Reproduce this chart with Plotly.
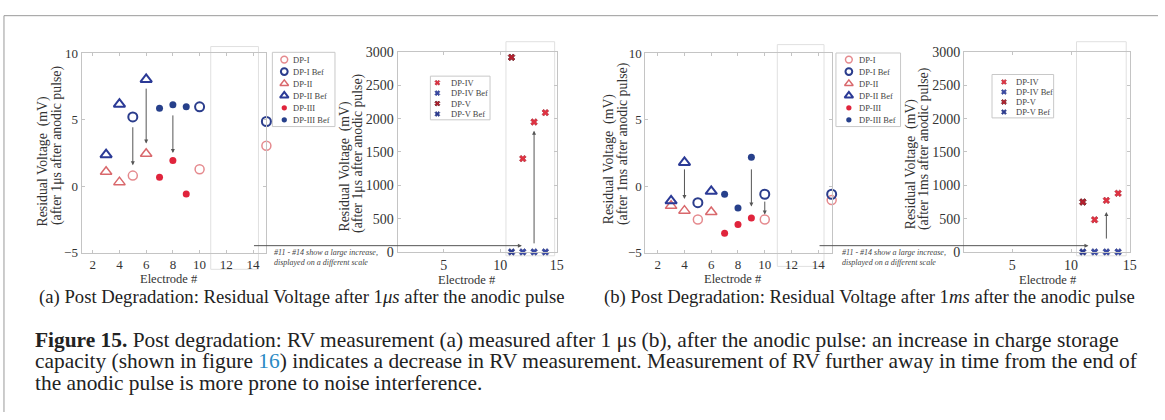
import plotly.graph_objects as go

W, H = 1165, 420

# ---------------- data: residual voltage per electrode (mV) ----------------
elec_dp1 = [5, 10, 15]
elec_dp2 = [3, 4, 6]
elec_dp3 = [7, 8, 9]
elec_dp4 = [12, 13, 14]
elec_dp5 = [11]

# measured 1 us after the anodic pulse
us_dp1 = [0.8, 1.28, 3.04]
us_dp1_bef = [5.2, 5.96, 4.86]
us_dp2 = [1.09, 0.31, 2.44]
us_dp2_bef = [2.37, 6.16, 8.02]
us_dp3 = [0.67, 1.93, -0.58]
us_dp3_bef = [5.85, 6.11, 5.96]
us_dp4 = [1400, 1950, 2090]
us_dp4_bef = [0, 0, 0]
us_dp5 = [2920]
us_dp5_bef = [0]

# measured 1 ms after the anodic pulse
ms_dp1 = [-2.49, -2.49, -1.04]
ms_dp1_bef = [-1.23, -0.6, -0.6]
ms_dp2 = [-1.47, -1.83, -1.93]
ms_dp2_bef = [-1.09, 1.79, -0.38]
ms_dp3 = [-3.52, -2.87, -2.39]
ms_dp3_bef = [-0.6, -1.64, 2.17]
ms_dp4 = [483, 773, 880]
ms_dp4_bef = [0, 0, 0]
ms_dp5 = [749]
ms_dp5_bef = [0]

# change arrows (electrode, from, to)
us_arrow_x = [5, 6, 8]
us_arrow_from = [4.54, 7.44, 5.43]
us_arrow_to = [1.57, 3.2, 2.49]
us_big_arrow = (13, 106, 1820)
ms_arrow_x = [4, 9, 10]
ms_arrow_from = [1.38, 1.38, -1.04]
ms_arrow_to = [-0.96, -1.52, -2.12]
ms_big_arrow = (13, 178, 598)

# tick labels
small_xticks = [2, 4, 6, 8, 10, 12, 14]
small_yticks = [-5, 0, 5, 10]
big_xticks = [5, 10, 15]
big_yticks = [0, 500, 1000, 1500, 2000, 2500, 3000]

SERIF = "Liberation Serif"

STYLE = {
    "DP-I": dict(symbol="circle-open", color="#e58a8e", size=9, lw=1.5),
    "DP-I Bef": dict(symbol="circle-open", color="#2b3d8c", size=9, lw=2),
    "DP-II": dict(symbol="triangle-up-open", color="#d9686c", size=10, lw=1.5),
    "DP-II Bef": dict(symbol="triangle-up-open", color="#2b3a96", size=10, lw=2),
    "DP-III": dict(symbol="circle", color="#e0243c", size=7, lw=0),
    "DP-III Bef": dict(symbol="circle", color="#27408b", size=7, lw=0),
    "DP-IV": dict(symbol="x", color="#e23242", size=6, lw=0.5, lc="#9a1a28"),
    "DP-IV Bef": dict(symbol="x", color="#3a4aa8", size=6, lw=0.5, lc="#1d2a70"),
    "DP-V": dict(symbol="x", color="#b8202e", size=6, lw=0.7, lc="#5a0c14"),
    "DP-V Bef": dict(symbol="x", color="#2d3c92", size=6, lw=0.5, lc="#1d2a70"),
}


def fx(p):
    return p / W


def fy(p):
    return 1 - p / H


def marker(name, scale=1.0):
    s = STYLE[name]
    m = dict(symbol=s["symbol"], color=s["color"], size=s["size"] * scale)
    if s["symbol"].endswith("open"):
        m["line"] = dict(color=s["color"], width=s["lw"])
    elif s["symbol"] == "x":
        m["line"] = dict(color=s.get("lc", s["color"]), width=s["lw"])
    return m


fig = go.Figure()

# axis boxes: (axis id, x px span, y px span, x range, y range, ticks, tick font size)
panels = [
    ("", (82, 268), (47.7, 255), [1.16, 15], [-5, 10], small_xticks, small_yticks, 13),
    ("2", (400, 560), (46.7, 254), [0.9, 15], [0, 3000], big_xticks, big_yticks, 14),
    ("3", (649.3, 836.7), (47.7, 255), [1.08, 15], [-5, 10], small_xticks, small_yticks, 13),
    ("4", (970, 1136.7), (46.7, 254), [0.9, 15], [0, 3000], big_xticks, big_yticks, 14),
]

axis_common = dict(
    showgrid=False, zeroline=False, showline=True, linecolor="#c4c4c4", linewidth=1,
    mirror="ticks", ticks="inside", ticklen=3, tickcolor="#c4c4c4",
)
for sid, xs, ys, xr, yr, xt, yt, fs in panels:
    tf = dict(family=SERIF, size=fs, color="#333")
    fig.update_layout(**{
        "xaxis" + sid: dict(domain=[fx(xs[0]), fx(xs[1])], range=xr, tickvals=xt,
                            anchor="y" + sid, tickfont=tf, **axis_common),
        "yaxis" + sid: dict(domain=[fy(ys[1]), fy(ys[0])], range=yr, tickvals=yt,
                            anchor="x" + sid, tickfont=tf, **axis_common),
    })

# page-coordinate helper axes (pixels, origin top-left) for legends and pointers
PX = "5"
fig.update_layout(
    xaxis5=dict(domain=[0, 1], range=[0, W], visible=False, anchor="y5", fixedrange=True),
    yaxis5=dict(domain=[0, 1], range=[H, 0], visible=False, anchor="x5", fixedrange=True),
)


def add_series(name, xs, ys, sid):
    fig.add_trace(go.Scatter(
        x=xs, y=ys, mode="markers", name=name, marker=marker(name),
        xaxis="x" + sid, yaxis="y" + sid, cliponaxis=False, showlegend=False,
    ))


# (a) after 1 us
add_series("DP-I", elec_dp1, us_dp1, "")
add_series("DP-I Bef", elec_dp1, us_dp1_bef, "")
add_series("DP-II", elec_dp2, us_dp2, "")
add_series("DP-II Bef", elec_dp2, us_dp2_bef, "")
add_series("DP-III", elec_dp3, us_dp3, "")
add_series("DP-III Bef", elec_dp3, us_dp3_bef, "")
add_series("DP-IV Bef", elec_dp4, us_dp4_bef, "2")
add_series("DP-V Bef", elec_dp5, us_dp5_bef, "2")
add_series("DP-IV", elec_dp4, us_dp4, "2")
add_series("DP-V", elec_dp5, us_dp5, "2")

# (b) after 1 ms
add_series("DP-I", elec_dp1, ms_dp1, "3")
add_series("DP-I Bef", elec_dp1, ms_dp1_bef, "3")
add_series("DP-II", elec_dp2, ms_dp2, "3")
add_series("DP-II Bef", elec_dp2, ms_dp2_bef, "3")
add_series("DP-III", elec_dp3, ms_dp3, "3")
add_series("DP-III Bef", elec_dp3, ms_dp3_bef, "3")
add_series("DP-IV Bef", elec_dp4, ms_dp4_bef, "4")
add_series("DP-V Bef", elec_dp5, ms_dp5_bef, "4")
add_series("DP-IV", elec_dp4, ms_dp4, "4")
add_series("DP-V", elec_dp5, ms_dp5, "4")

annotations = []
shapes = []

# before -> after arrows
ARROW = dict(showarrow=True, text="", arrowhead=2, arrowsize=0.8, arrowwidth=1,
             arrowcolor="#555", standoff=0, startstandoff=0)


def add_arrow(sid, x, y0, y1):
    annotations.append(dict(x=x, y=y1, ax=x, ay=y0, xref="x" + sid, yref="y" + sid,
                            axref="x" + sid, ayref="y" + sid, **ARROW))


for x, a, b in zip(us_arrow_x, us_arrow_from, us_arrow_to):
    add_arrow("", x, a, b)
add_arrow("2", us_big_arrow[0], us_big_arrow[1], us_big_arrow[2])
for x, a, b in zip(ms_arrow_x, ms_arrow_from, ms_arrow_to):
    add_arrow("3", x, a, b)
add_arrow("4", ms_big_arrow[0], ms_big_arrow[1], ms_big_arrow[2])

# pointer from the small-scale axes to the large-scale axes
for x0, x1 in [(254, 525), (823, 1095)]:
    annotations.append(dict(x=x1, y=247.5, ax=x0, ay=247.5,
                            xref="x" + PX, yref="y" + PX, axref="x" + PX, ayref="y" + PX,
                            **ARROW))

# note under the pointer
for x0 in [274, 845]:
    for txt, yy in [("#11 - #14 show a large increase,", 255),
                    ("displayed on a different scale", 265)]:
        annotations.append(dict(x=fx(x0), y=fy(yy), xref="paper", yref="paper",
                                text="<i>" + txt + "</i>", showarrow=False,
                                xanchor="left", yanchor="middle",
                                font=dict(family=SERIF, size=8, color="#444")))

# light frames of the inset regions
for x0, y0, x1, y1 in [(212, 41, 260, 272), (509, 36, 558, 258),
                       (782, 39, 829, 269), (1083, 36, 1133, 258)]:
    shapes.append(dict(type="rect", xref="paper", yref="paper",
                       x0=fx(x0), x1=fx(x1), y0=fy(y1), y1=fy(y0),
                       line=dict(color="#e0e0e0", width=1), layer="below"))


def add_legend(names, box, mx, tx, row0, drow):
    x0, y0, x1, y1 = box
    shapes.append(dict(type="rect", xref="paper", yref="paper",
                       x0=fx(x0), x1=fx(x1), y0=fy(y1), y1=fy(y0),
                       line=dict(color="#c8c8c8", width=1), fillcolor="white", layer="below"))
    for i, n in enumerate(names):
        yy = row0 + i * drow
        fig.add_trace(go.Scatter(x=[mx], y=[yy], mode="markers", marker=marker(n, 0.75),
                                 xaxis="x" + PX, yaxis="y" + PX,
                                 showlegend=False, cliponaxis=False, hoverinfo="skip"))
        annotations.append(dict(x=fx(tx), y=fy(yy), xref="paper", yref="paper", text=n,
                                showarrow=False, xanchor="left", yanchor="middle",
                                font=dict(family=SERIF, size=8.5, color="#444")))


names_small = ["DP-I", "DP-I Bef", "DP-II", "DP-II Bef", "DP-III", "DP-III Bef"]
names_big = ["DP-IV", "DP-IV Bef", "DP-V", "DP-V Bef"]
add_legend(names_small, (274, 47, 337, 124), 286, 293, 54.5, 12.5)
add_legend(names_big, (433, 71.7, 493, 117), 440, 452, 78.5, 10.8)
add_legend(names_small, (841, 47.7, 906, 124), 854, 862, 54.5, 12.5)
add_legend(names_big, (998, 70, 1060, 115), 1010, 1020, 77.7, 10.4)

# axis titles
for cx, cy in [(170, 282), (470, 283), (737, 282), (1054, 283)]:
    annotations.append(dict(x=fx(cx), y=fy(cy), xref="paper", yref="paper",
                            text="Electrode #", showarrow=False, xanchor="center",
                            yanchor="middle", font=dict(family=SERIF, size=12.5, color="#333")))

ytitles = [
    (43, 230, 58, 228, "1μs"),
    (347, 235, 360, 236, "1μs"),
    (613, 227, 627, 228, "1ms"),
    (916, 232, 929, 233, "1ms"),
]
for x1, b1, x2, b2, t in ytitles:
    f = dict(family=SERIF, size=13.8, color="#333")
    annotations.append(dict(x=fx(x1), y=fy(b1), xref="paper", yref="paper",
                            text="Residual Voltage  (mV)", textangle=-90, showarrow=False,
                            xanchor="center", yanchor="bottom", font=f))
    annotations.append(dict(x=fx(x2), y=fy(b2), xref="paper", yref="paper",
                            text="(after " + t + " after anodic pulse)", textangle=-90,
                            showarrow=False, xanchor="center", yanchor="bottom", font=f))

# sub-captions
cap_font = dict(family=SERIF, size=18.7, color="#222")
annotations.append(dict(x=fx(37), y=fy(301), xref="paper", yref="paper", showarrow=False,
                        xanchor="left", yanchor="middle", font=cap_font,
                        text="(a) Post Degradation: Residual Voltage after 1<i>μs</i> after the anodic pulse"))
annotations.append(dict(x=fx(606), y=fy(301), xref="paper", yref="paper", showarrow=False,
                        xanchor="left", yanchor="middle", font=cap_font,
                        text="(b) Post Degradation: Residual Voltage after 1<i>ms</i> after the anodic pulse"))

# figure caption
fig_font = dict(family=SERIF, size=21.4, color="#222")
caption_lines = [
    "<b>Figure 15.</b> Post degradation: RV measurement (a) measured after 1 μs (b), after the anodic pulse: an increase in charge storage",
    "capacity (shown in figure <span style='color:#2a8ac4'>16</span>) indicates a decrease in RV measurement. Measurement of RV further away in time from the end of",
    "the anodic pulse is more prone to noise interference.",
]
for i, line in enumerate(caption_lines):
    annotations.append(dict(x=fx(33), y=fy(345 + 22.5 * i), xref="paper", yref="paper",
                            showarrow=False, xanchor="left", yanchor="middle",
                            font=fig_font, text=line))

# page frame
shapes.append(dict(type="line", xref="paper", yref="paper", x0=fx(4), x1=1, y0=fy(9), y1=fy(9),
                   line=dict(color="#9a9a9a", width=1)))
shapes.append(dict(type="line", xref="paper", yref="paper", x0=fx(4), x1=fx(4), y0=0, y1=fy(9),
                   line=dict(color="#9a9a9a", width=1)))

fig.update_layout(
    width=W, height=H, autosize=False,
    margin=dict(l=0, r=0, t=0, b=0, pad=0),
    paper_bgcolor="white", plot_bgcolor="rgba(0,0,0,0)",
    showlegend=False,
    annotations=annotations, shapes=shapes,
)

fig.write_html("out.html", config={"displayModeBar": False})
